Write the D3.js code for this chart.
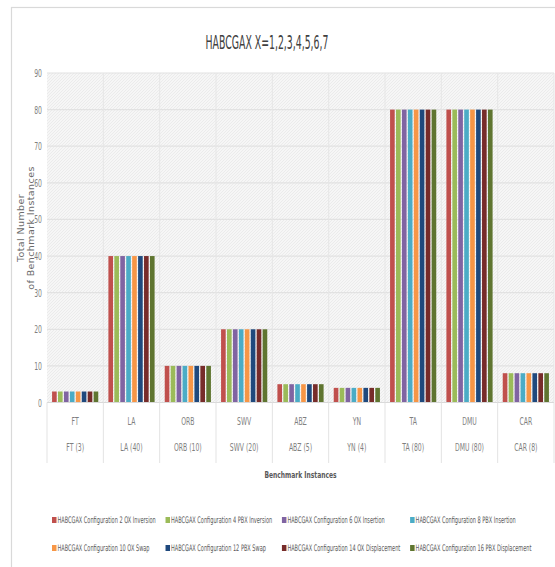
<!DOCTYPE html>
<html>
<head>
<meta charset="utf-8">
<script src="https://cdn.jsdelivr.net/npm/d3@7"></script>
<style>
  html, body { margin: 0; padding: 0; background: #fff; }
  svg { display: block; }
  .narrow { font-family: "Liberation Sans Narrow", "DejaVu Sans Condensed", "Arial Narrow", sans-serif; }
</style>
</head>
<body>
<svg id="chart" width="555" height="567"></svg>
<script>
// Benchmark families (short name and count label) and the configurations tested
const categories = ["FT", "LA", "ORB", "SWV", "ABZ", "YN", "TA", "DMU", "CAR"];
const categoryCounts = ["FT (3)", "LA (40)", "ORB (10)", "SWV (20)", "ABZ (5)", "YN (4)", "TA (80)", "DMU (80)", "CAR (8)"];
const seriesNames = [
  "HABCGAX Configuration 2 OX Inversion",
  "HABCGAX Configuration 4 PBX Inversion",
  "HABCGAX Configuration 6 OX Insertion",
  "HABCGAX Configuration 8 PBX Insertion",
  "HABCGAX Configuration 10 OX Swap",
  "HABCGAX Configuration 12 PBX Swap",
  "HABCGAX Configuration 14 OX Displacement",
  "HABCGAX Configuration 16 PBX Displacement"
];
const config2 = [3, 40, 10, 20, 5, 4, 80, 80, 8];
const config4 = [3, 40, 10, 20, 5, 4, 80, 80, 8];
const config6 = [3, 40, 10, 20, 5, 4, 80, 80, 8];
const config8 = [3, 40, 10, 20, 5, 4, 80, 80, 8];
const config10 = [3, 40, 10, 20, 5, 4, 80, 80, 8];
const config12 = [3, 40, 10, 20, 5, 4, 80, 80, 8];
const config14 = [3, 40, 10, 20, 5, 4, 80, 80, 8];
const config16 = [3, 40, 10, 20, 5, 4, 80, 80, 8];
const seriesValues = [config2, config4, config6, config8, config10, config12, config14, config16];
const yTicks = [0, 10, 20, 30, 40, 50, 60, 70, 80, 90];
const colors = ["#c0504d", "#9bbb59", "#8064a2", "#4bacc6", "#f79646", "#1f497d", "#772c2a", "#5f7530"];

const svg = d3.select("#chart");

// condensed text: drawn at (x, y) and squeezed horizontally by sx
function narrowText(sel, x, y, sx) {
  return sel.attr("class", "narrow")
    .attr("x", 0).attr("y", 0)
    .attr("transform", (d, i) => {
      const px = typeof x === "function" ? x(d, i) : x;
      const py = typeof y === "function" ? y(d, i) : y;
      return `translate(${px},${py}) scale(${sx},1)`;
    });
}

// chart frame
svg.append("rect").attr("x", 11.5).attr("y", 7.5).attr("width", 600).attr("height", 600)
  .attr("fill", "#fff").attr("stroke", "#d9d9d9").attr("stroke-width", 1.2);

// plot-area texture
const defs = svg.append("defs");
const pat = defs.append("pattern").attr("id", "hatch").attr("patternUnits", "userSpaceOnUse")
  .attr("width", 3).attr("height", 3);
pat.append("rect").attr("width", 3).attr("height", 3).attr("fill", "#f6f6f6");
pat.append("path").attr("d", "M0,3 L3,0").attr("stroke", "#e9e9e9").attr("stroke-width", 0.8);

const plot = { left: 47, right: 554, top: 73, bottom: 402.5 };

const x0 = d3.scaleBand().domain(categories).range([plot.left, plot.right]).padding(0);
const bw = x0.bandwidth();
const x1 = d3.scaleBand().domain(d3.range(seriesNames.length))
  .range([bw * 0.09, bw * 0.91]).paddingInner(0.22).paddingOuter(0);
const y = d3.scaleLinear().domain([0, 90]).range([plot.bottom, plot.top]);

svg.append("rect").attr("x", plot.left).attr("y", plot.top)
  .attr("width", plot.right - plot.left).attr("height", plot.bottom - plot.top)
  .attr("fill", "url(#hatch)");

// horizontal gridlines
svg.append("g").selectAll("line").data(yTicks.slice(1)).join("line")
  .attr("x1", plot.left).attr("x2", plot.right)
  .attr("y1", d => y(d)).attr("y2", d => y(d))
  .attr("stroke", "#e2e2e2").attr("stroke-width", 1.2);

// vertical category gridlines
const bounds = categories.map(c => x0(c)).concat([plot.right]);
svg.append("g").selectAll("line").data(bounds.slice(1)).join("line")
  .attr("x1", d => d).attr("x2", d => d)
  .attr("y1", plot.top).attr("y2", plot.bottom)
  .attr("stroke", "#e6e6e6").attr("stroke-width", 1);

// y axis labels
const yAxis = d3.axisLeft(y).tickValues(yTicks).tickSize(0).tickPadding(0);
const gy = svg.append("g").attr("transform", `translate(${plot.left},0)`).call(yAxis);
gy.select(".domain").remove();
gy.selectAll(".tick text").each(function () {
  d3.select(this).attr("x", 0).attr("dy", null).attr("y", 3.5)
    .attr("transform", "translate(-5,0) scale(0.62,1)")
    .attr("font-size", 11).attr("fill", "#7f7f7f")
    .style("font-family", '"Liberation Sans Narrow", "DejaVu Sans Condensed", sans-serif');
});

// bars
const groups = svg.append("g").selectAll("g").data(categories).join("g")
  .attr("transform", c => `translate(${x0(c)},0)`);
groups.selectAll("rect")
  .data((c, ci) => seriesValues.map((vals, si) => ({ si, v: vals[ci] })))
  .join("rect")
  .attr("x", d => x1(d.si)).attr("width", x1.bandwidth())
  .attr("y", d => y(d.v)).attr("height", d => y(0) - y(d.v))
  .attr("fill", d => colors[d.si]);

// baseline
svg.append("line").attr("x1", plot.left).attr("x2", plot.right)
  .attr("y1", plot.bottom).attr("y2", plot.bottom).attr("stroke", "#d9d9d9");

// multi-level category axis
const xAxis = svg.append("g");
xAxis.selectAll("line").data(bounds).join("line")
  .attr("x1", d => d).attr("x2", d => d)
  .attr("y1", plot.bottom).attr("y2", 463)
  .attr("stroke", "#e3e3e3");
xAxis.selectAll("text.cat").data(categories).join("text")
  .call(narrowText, c => x0(c) + bw / 2, 425, 0.62)
  .attr("text-anchor", "middle").attr("font-size", 11).attr("fill", "#7f7f7f")
  .text(c => c);
xAxis.selectAll("text.cnt").data(categoryCounts).join("text")
  .call(narrowText, (d, i) => x0(categories[i]) + bw / 2, 451, 0.62)
  .attr("text-anchor", "middle").attr("font-size", 11).attr("fill", "#7f7f7f")
  .text(d => d);

// axis titles
svg.append("text")
  .call(narrowText, (plot.left + plot.right) / 2, 478, 0.7)
  .attr("text-anchor", "middle").attr("font-size", 9.5).attr("font-weight", "bold").attr("fill", "#595959")
  .text("Benchmark Instances");

const yTitle = svg.append("text")
  .attr("transform", "translate(0,228) rotate(-90)")
  .attr("text-anchor", "middle").attr("font-size", 9.5).attr("fill", "#6b6b6b")
  .attr("letter-spacing", 0.4)
  .style("font-family", '"DejaVu Sans", Verdana, sans-serif');
yTitle.append("tspan").attr("x", 0).attr("y", 24).text("Total Number");
yTitle.append("tspan").attr("x", 0).attr("y", 33.5).text("of Benchmark Instances");

// chart title
svg.append("text")
  .call(narrowText, 267, 49, 0.52)
  .attr("text-anchor", "middle")
  .attr("font-size", 20).attr("fill", "#404040")
  .text("HABCGAX  X=1,2,3,4,5,6,7");

// legend: 2 rows x 4 columns, column width from the widest label in each column
const legendScale = 0.62, legendFont = 9;
const legend = svg.append("g");
const cols = 4, rowY = [523, 551];
const items = seriesNames.map((name, i) => ({ name, i, col: i % cols, row: Math.floor(i / cols) }));
const tmp = legend.selectAll("text.tmp").data(items).join("text")
  .attr("class", "tmp narrow").attr("font-size", legendFont).text(d => d.name);
const widths = [];
tmp.each(function (d) { widths[d.i] = this.getComputedTextLength() * legendScale; });
tmp.remove();
const colX = [52];
for (let c = 1; c < cols; c++) {
  const w = d3.max(items.filter(d => d.col === c - 1), d => widths[d.i]);
  colX.push(colX[c - 1] + 5 + w + 10);
}
const li = legend.selectAll("g").data(items).join("g")
  .attr("transform", d => `translate(${colX[d.col]},${rowY[d.row]})`);
li.append("rect").attr("x", 0).attr("y", -6).attr("width", 4.5).attr("height", 6)
  .attr("fill", d => colors[d.i]);
li.append("text")
  .call(narrowText, 5.5, 0, legendScale)
  .attr("font-size", legendFont).attr("fill", "#595959").text(d => d.name);
</script>
</body>
</html>
